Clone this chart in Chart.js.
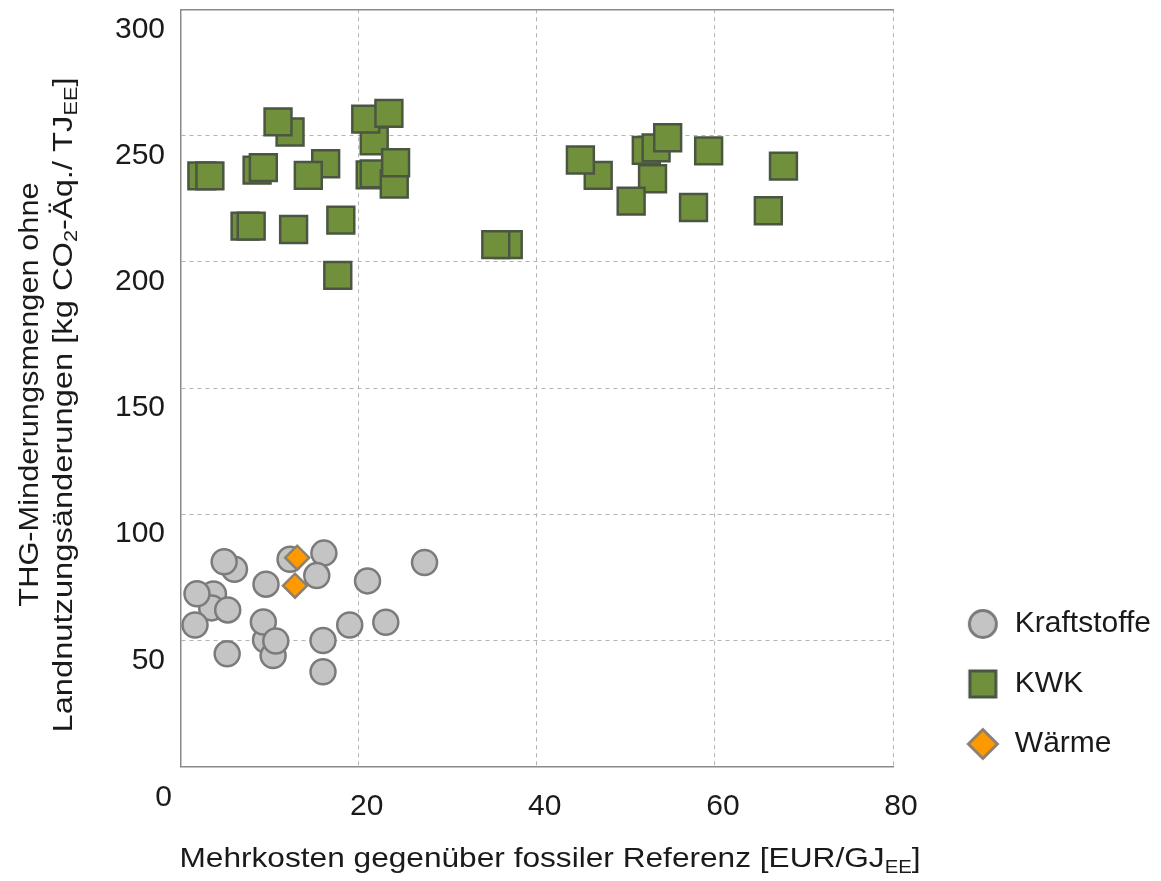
<!DOCTYPE html>
<html>
<head>
<meta charset="utf-8">
<script src="https://cdn.jsdelivr.net/npm/chart.js@4.4.1/dist/chart.umd.min.js"></script>
<style>html,body{margin:0;padding:0;background:#fff}canvas{display:block}</style>
</head>
<body>
<canvas id="c" width="1161" height="881"></canvas>
<script>
// ---------- data ----------
const seriesNames = ['Kraftstoffe', 'KWK', 'Wärme'];
const xTickValues = [0, 20, 40, 60, 80];
const yTickValues = [0, 50, 100, 150, 200, 250, 300];

const kraftstoffeX = [6.06, 4.9, 9.6, 3.7, 3.5, 1.85, 5.3, 1.63, 5.24, 9.55, 9.3, 10.4, 10.7, 12.3, 16.1, 15.3, 21.0, 27.4, 19.0, 23.05, 16.0, 16.0];
const kraftstoffeY = [78.2, 81.2, 72.3, 68.4, 62.9, 68.5, 62.1, 56.1, 44.7, 50.2, 57.3, 44.0, 49.8, 82.2, 84.6, 75.7, 73.6, 80.9, 56.1, 57.2, 50.0, 37.6];

const kwkX = [12.3, 10.95, 2.4, 3.3, 8.6, 9.3, 16.3, 14.35, 21.75, 20.8, 23.4, 21.3, 21.75, 24.0, 24.15, 7.25, 7.94, 12.7, 18.0, 17.66, 36.8, 35.4, 46.9, 44.9, 53.0, 50.6, 52.3, 53.4, 54.7, 59.3, 57.6, 67.7, 66.0];
const kwkY = [251.4, 255.4, 234.0, 234.0, 236.3, 237.3, 238.8, 234.2, 247.9, 256.5, 258.8, 234.4, 234.8, 230.8, 239.2, 214.1, 214.1, 212.8, 216.5, 194.6, 206.8, 206.8, 234.2, 240.3, 232.9, 224.0, 244.1, 245.1, 249.1, 243.9, 221.5, 237.9, 220.2];

const waermeX = [12.86, 13.1];
const waermeY = [71.7, 82.8];

const xTitleParts = [{t: 'Mehrkosten gegenüber fossiler Referenz [EUR/GJ'}, {t: 'EE', sub: true}, {t: ']'}];
const yTitleLine1 = [{t: 'THG-Minderungsmengen ohne'}];
const yTitleLine2 = [{t: 'Landnutzungsänderungen [kg CO'}, {t: '2', sub: true}, {t: '-Äq./ TJ'}, {t: 'EE', sub: true}, {t: ']'}];
const originLabel = '0';

// ---------- style ----------
const FONT = "'Liberation Sans', Arial, Helvetica, sans-serif";
const TEXT = '#1a1a1a';
const GRID = '#b3b3b3';
const AXIS = '#8a8a8a';
const seriesStyle = [
  {shape: 'circle', fill: '#c4c4c4', stroke: '#7b7b7b'},
  {shape: 'rect', fill: '#71903c', stroke: '#4a5642'},
  {shape: 'rectRot', fill: '#ff9900', stroke: '#8c8171'}
];

function toPoints(xs, ys) { return xs.map((x, i) => ({x: x, y: ys[i]})); }

function legendIcon(style) {
  const c = document.createElement('canvas');
  c.width = 38; c.height = 38;
  const g = c.getContext('2d');
  g.fillStyle = style.fill; g.strokeStyle = style.stroke; g.lineWidth = 3;
  g.beginPath();
  if (style.shape === 'circle') {
    g.arc(19, 19, 13.5, 0, Math.PI * 2);
  } else if (style.shape === 'rect') {
    g.rect(19 - 13, 19 - 13, 26, 26);
  } else {
    g.moveTo(19 - 14.5, 19); g.lineTo(19, 19 - 14.5); g.lineTo(19 + 14.5, 19); g.lineTo(19, 19 + 14.5); g.closePath();
  }
  g.fill(); g.stroke();
  return c;
}
const legendIcons = seriesStyle.map(legendIcon);

function drawRich(ctx, parts, cx, baseY, size, sx) {
  ctx.save();
  ctx.translate(cx, baseY);
  ctx.scale(sx, 1);
  const subSize = Math.round(size * 0.65);
  let total = 0;
  const widths = parts.map(p => {
    ctx.font = (p.sub ? subSize : size) + 'px ' + FONT;
    const w = ctx.measureText(p.t).width;
    total += w;
    return w;
  });
  let x = -total / 2;
  ctx.textAlign = 'left';
  ctx.textBaseline = 'alphabetic';
  parts.forEach((p, i) => {
    ctx.font = (p.sub ? subSize : size) + 'px ' + FONT;
    ctx.fillText(p.t, x, p.sub ? size * 0.2 : 0);
    x += widths[i];
  });
  ctx.restore();
}

const titlesPlugin = {
  id: 'axisTitles',
  afterDraw(chart) {
    const ctx = chart.ctx;
    const xs = chart.scales.x, ys = chart.scales.y;
    ctx.save();
    ctx.fillStyle = TEXT;
    ctx.font = '30px ' + FONT;
    ctx.textAlign = 'center';
    ctx.textBaseline = 'middle';
    ctx.fillText(originLabel, xs.left - 17, ys.bottom + 31);
    drawRich(ctx, xTitleParts, 550, 867, 28, 1.13);
    ctx.save();
    ctx.translate(38, 394.5);
    ctx.rotate(-Math.PI / 2);
    drawRich(ctx, yTitleLine1, 0, 0, 27, 1.14);
    ctx.restore();
    ctx.save();
    ctx.translate(72, 405);
    ctx.rotate(-Math.PI / 2);
    drawRich(ctx, yTitleLine2, 0, 0, 27, 1.21);
    ctx.restore();
    ctx.restore();
  }
};

const PLOT_RIGHT = 893;

new Chart(document.getElementById('c'), {
  type: 'scatter',
  data: {
    datasets: [
      {label: seriesNames[0], data: toPoints(kraftstoffeX, kraftstoffeY), xAxisID: 'x', yAxisID: 'y', order: 2,
       pointStyle: 'circle', pointRadius: 12.5, pointHoverRadius: 12.5, borderWidth: 2.5,
       backgroundColor: seriesStyle[0].fill, borderColor: seriesStyle[0].stroke},
      {label: seriesNames[1], data: toPoints(kwkX, kwkY), xAxisID: 'x', yAxisID: 'y', order: 1,
       pointStyle: 'rect', pointRadius: 19, pointHoverRadius: 19, borderWidth: 2.5,
       backgroundColor: seriesStyle[1].fill, borderColor: seriesStyle[1].stroke},
      {label: seriesNames[2], data: toPoints(waermeX, waermeY), xAxisID: 'x', yAxisID: 'y', order: 0,
       pointStyle: 'rectRot', pointRadius: 12, pointHoverRadius: 12, borderWidth: 2.5,
       backgroundColor: seriesStyle[2].fill, borderColor: seriesStyle[2].stroke}
    ]
  },
  options: {
    responsive: false,
    animation: false,
    layout: {autoPadding: false, padding: {top: 9.3, left: 0, right: 0, bottom: 56.3}},
    scales: {
      x: {
        type: 'linear', position: 'bottom',
        min: xTickValues[0], max: xTickValues[xTickValues.length - 1],
        afterBuildTicks: s => { s.ticks = xTickValues.map(v => ({value: v})); },
        ticks: {padding: 22, labelOffset: 8, color: TEXT, font: {family: FONT, size: 30}, maxRotation: 0, autoSkip: false,
                callback: v => v === 0 ? '' : String(v)},
        grid: {color: c => (c.tick && c.tick.value === 0) ? 'rgba(0,0,0,0)' : GRID, lineWidth: 1, drawTicks: false},
        border: {display: true, color: AXIS, width: 1.5, dash: [4, 4]},
        afterFit: s => { s.height = 58; s.paddingLeft = 0; s.paddingRight = 0; s.paddingTop = 0; s.paddingBottom = 0; }
      },
      x2: {
        type: 'linear', position: 'top', display: true,
        grid: {display: false, drawTicks: false}, ticks: {display: false},
        border: {display: true, color: AXIS, width: 1.5},
        afterFit: s => { s.height = 0; s.paddingLeft = 0; s.paddingRight = 0; s.paddingTop = 0; s.paddingBottom = 0; }
      },
      y: {
        type: 'linear', position: 'left',
        min: yTickValues[0], max: yTickValues[yTickValues.length - 1],
        afterBuildTicks: s => { s.ticks = yTickValues.map(v => ({value: v})); },
        ticks: {padding: 15.5, labelOffset: 20, color: TEXT, font: {family: FONT, size: 30}, autoSkip: false,
                callback: v => v === 0 ? '' : String(v)},
        grid: {color: c => (c.tick && (c.tick.value === 0 || c.tick.value === 300)) ? 'rgba(0,0,0,0)' : GRID, lineWidth: 1, drawTicks: false},
        border: {display: true, color: AXIS, width: 1.5, dash: [4, 4]},
        afterFit: s => { s.width = 180.5; s.paddingTop = 0; s.paddingBottom = 0; s.paddingLeft = 0; s.paddingRight = 0; }
      },
      y2: {
        type: 'linear', position: 'right', display: true,
        grid: {display: false, drawTicks: false}, ticks: {display: false},
        border: {display: false},
        afterFit: s => {
          const lw = s.chart.legend ? s.chart.legend.width : 0;
          s.width = Math.max(0, s.chart.width - PLOT_RIGHT - lw);
          s.paddingTop = 0; s.paddingBottom = 0; s.paddingLeft = 0; s.paddingRight = 0;
        }
      }
    },
    plugins: {
      tooltip: {enabled: false},
      legend: {
        display: true, position: 'right', align: 'start', fullSize: true, maxWidth: 400,
        title: {display: true, text: ' ', font: {size: 12}, padding: {top: 555.3, bottom: 0}},
        labels: {
          usePointStyle: true, pointStyleWidth: 34, padding: 30, color: TEXT,
          font: {family: FONT, size: 30},
          generateLabels: () => seriesNames.map((n, i) => ({
            text: n, fillStyle: seriesStyle[i].fill, strokeStyle: seriesStyle[i].stroke, fontColor: TEXT,
            lineWidth: 0, pointStyle: legendIcons[i], datasetIndex: i, hidden: false
          }))
        }
      }
    }
  },
  plugins: [titlesPlugin]
});
</script>
</body>
</html>
